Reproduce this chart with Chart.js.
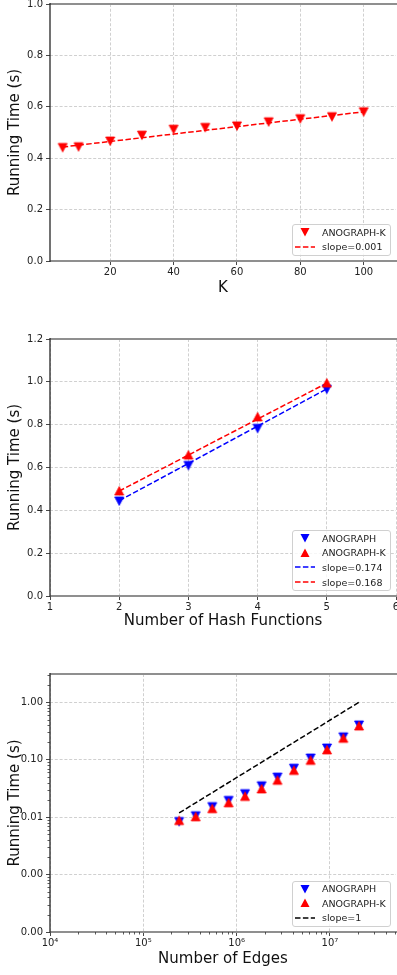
<!DOCTYPE html>
<html>
<head>
<meta charset="utf-8">
<script src="https://cdn.jsdelivr.net/npm/chart.js@4.4.1/dist/chart.umd.min.js"></script>
<style>
  body { margin: 0; background: #fff; font-family: "DejaVu Sans", sans-serif; }
  #page { position: relative; width: 397px; height: 975px; overflow: hidden; }
  #page canvas { position: absolute; left: 0; }
  .legend {
    position: absolute; left: 292px; width: 99px; box-sizing: border-box;
    border: 1px solid #d0d0d0; border-radius: 3px; background: rgba(255,255,255,0.8);
    padding: 0 0 1px 0; font-size: 9.5px; color: #222;
  }
  .legend .row { height: 14.6px; display: flex; align-items: center; white-space: nowrap; }
  .legend svg { margin-left: 2px; margin-right: 7px; flex: none; }
</style>
</head>
<body>
<div id="page">
  <canvas id="kChart" width="397" height="300" style="top:0px"></canvas>
  <canvas id="hashChart" width="397" height="313" style="top:320px"></canvas>
  <canvas id="edgeChart" width="397" height="331" style="top:640px"></canvas>

  <div class="legend" style="top:224px">
    <div class="row"><svg width="20" height="12"><polygon points="5.5,2 14.5,2 10,10.5" fill="#ff0000"/></svg>ANOGRAPH-K</div>
    <div class="row"><svg width="20" height="12"><line x1="0" y1="6" x2="20" y2="6" stroke="#ff0000" stroke-width="1.5" stroke-dasharray="5.5 2.4"/></svg>slope=0.001</div>
  </div>

  <div class="legend" style="top:530px">
    <div class="row"><svg width="20" height="12"><polygon points="5.5,2 14.5,2 10,10.5" fill="#0000ff"/></svg>ANOGRAPH</div>
    <div class="row"><svg width="20" height="12"><polygon points="5.5,10 14.5,10 10,1.5" fill="#ff0000"/></svg>ANOGRAPH-K</div>
    <div class="row"><svg width="20" height="12"><line x1="0" y1="6" x2="20" y2="6" stroke="#0000ff" stroke-width="1.5" stroke-dasharray="5.5 2.4"/></svg>slope=0.174</div>
    <div class="row"><svg width="20" height="12"><line x1="0" y1="6" x2="20" y2="6" stroke="#ff0000" stroke-width="1.5" stroke-dasharray="5.5 2.4"/></svg>slope=0.168</div>
  </div>

  <div class="legend" style="top:880.5px">
    <div class="row"><svg width="20" height="12"><polygon points="5.5,2 14.5,2 10,10.5" fill="#0000ff"/></svg>ANOGRAPH</div>
    <div class="row"><svg width="20" height="12"><polygon points="5.5,10 14.5,10 10,1.5" fill="#ff0000"/></svg>ANOGRAPH-K</div>
    <div class="row"><svg width="20" height="12"><line x1="0" y1="6" x2="20" y2="6" stroke="#000000" stroke-width="1.5" stroke-dasharray="5.5 2.4"/></svg>slope=1</div>
  </div>
</div>

<script>
// Chart 1 - running time vs K
const kValues = [5, 10, 20, 30, 40, 50, 60, 70, 80, 90, 100];
const kTimes = [0.442, 0.445, 0.467, 0.490, 0.513, 0.520, 0.526, 0.542, 0.554, 0.562, 0.581];
const kFitX = [5, 100];
const kFitY = [0.4435, 0.5805];
const kXTicks = [20, 40, 60, 80, 100];
const kYTicks = [0, 0.2, 0.4, 0.6, 0.8, 1.0];

// Chart 2 - running time vs number of hash functions
const hashCounts = [2, 3, 4, 5];
const hashTimes = [0.444, 0.610, 0.783, 0.966];
const hashTimesK = [0.490, 0.658, 0.836, 0.994];
const hashFitX = [2, 5];
const hashFitY = [0.445, 0.967];
const hashFitYK = [0.490, 0.994];
const hashXTicks = [1, 2, 3, 4, 5, 6];
const hashYTicks = [0, 0.2, 0.4, 0.6, 0.8, 1.0, 1.2];

// Chart 3 - running time vs number of edges (log-log)
const edgeCounts = [2.42e5, 3.64e5, 5.48e5, 8.2e5, 1.23e6, 1.85e6, 2.74e6, 4.11e6, 6.2e6, 9.3e6, 1.39e7, 2.05e7];
const edgeTimes = [0.0084, 0.0106, 0.0153, 0.0196, 0.0257, 0.0352, 0.0499, 0.0711, 0.107, 0.160, 0.250, 0.403];
const edgeTimesK = [0.0087, 0.0101, 0.0140, 0.0177, 0.0229, 0.0309, 0.0437, 0.0648, 0.097, 0.148, 0.235, 0.385];
const slopeX = [2.42e5, 2.05e7];
const slopeY = [0.0118, 1.0];
const edgeXMajor = [1e4, 1e5, 1e6, 1e7];
const edgeXLabels = ["10\u2074", "10\u2075", "10\u2076", "10\u2077"];
const edgeYMajor = [1e-4, 1e-3, 1e-2, 1e-1, 1];
const edgeYLabels = ["0.00", "0.00", "0.01", "0.10", "1.00"];

Chart.defaults.font.family = "'DejaVu Sans', sans-serif";
Chart.defaults.color = "#222";

const GRID = "#c4c4c4";
const TICK = "#333";
const RED = "#ff0000";
const BLUE = "#0000ff";

const toPoints = (xs, ys) => xs.map((x, i) => ({ x: x, y: ys[i] }));
const isPow10 = (v) => Math.abs(Math.log10(v) - Math.round(Math.log10(v))) < 1e-6;

/** Triangle marker like matplotlib 'v' / '^' */
function triangleMarker(color, down) {
  const c = document.createElement("canvas");
  c.width = 12;
  c.height = 12;
  const g = c.getContext("2d");
  g.fillStyle = color;
  g.strokeStyle = color;
  g.lineWidth = 0.8;
  g.beginPath();
  if (down) {
    g.moveTo(1.5, 2); g.lineTo(10.5, 2); g.lineTo(6, 10.5);
  } else {
    g.moveTo(1.5, 10); g.lineTo(10.5, 10); g.lineTo(6, 1.5);
  }
  g.closePath();
  g.fill();
  g.stroke();
  return c;
}

const redDown = triangleMarker(RED, true);
const redUp = triangleMarker(RED, false);
const blueDown = triangleMarker(BLUE, true);

/** Axes frame drawn on top like matplotlib spines */
const framePlugin = {
  id: "frame",
  afterDraw(chart) {
    const { ctx, chartArea: a } = chart;
    ctx.save();
    ctx.lineWidth = 2;
    ctx.strokeStyle = "#8f8f8f";
    ctx.beginPath();
    ctx.moveTo(a.left, a.top); ctx.lineTo(a.right + 1, a.top);
    ctx.moveTo(a.left, a.bottom); ctx.lineTo(a.right + 1, a.bottom);
    ctx.stroke();
    ctx.lineWidth = 1.3;
    ctx.strokeStyle = "#262626";
    ctx.beginPath();
    ctx.moveTo(a.left, a.top - 1); ctx.lineTo(a.left, a.bottom + 1);
    ctx.stroke();
    ctx.restore();
  },
};

/** Short minor tick marks for the log axes */
const minorTickPlugin = {
  id: "minorTicks",
  afterDraw(chart) {
    const { ctx, chartArea: a, scales } = chart;
    ctx.save();
    ctx.strokeStyle = TICK;
    ctx.lineWidth = 0.8;
    ctx.beginPath();
    scales.x.ticks.forEach((t) => {
      if (isPow10(t.value)) return;
      const px = Math.round(scales.x.getPixelForValue(t.value)) + 0.5;
      ctx.moveTo(px, a.bottom); ctx.lineTo(px, a.bottom + 2.5);
    });
    scales.y.ticks.forEach((t) => {
      if (isPow10(t.value)) return;
      const py = Math.round(scales.y.getPixelForValue(t.value)) + 0.5;
      ctx.moveTo(a.left, py); ctx.lineTo(a.left - 2.5, py);
    });
    ctx.stroke();
    ctx.restore();
  },
};

function logTicks(majors, min, max) {
  const ticks = [];
  majors.forEach((m) => {
    for (let s = 1; s <= 9; s++) {
      const v = m * s;
      if (v >= min * 0.999 && v <= max) ticks.push({ value: v });
    }
  });
  return ticks;
}

function axisX(opts) {
  return {
    type: opts.type || "linear",
    min: opts.min,
    max: opts.max,
    afterBuildTicks: (scale) => { scale.ticks = opts.ticks(); },
    afterFit: (scale) => {
      scale.height = opts.height;
      scale.paddingLeft = 0;
      scale.paddingRight = 0;
    },
    grid: {
      color: opts.gridColor || GRID,
      lineWidth: 0.8,
      tickLength: 4,
      tickColor: opts.tickColor || TICK,
      tickWidth: 0.9,
    },
    border: { display: false, dash: [3, 1.8] },
    ticks: {
      autoSkip: false,
      maxRotation: 0,
      padding: 1,
      font: { size: 10 },
      color: "#222",
      callback: opts.label,
    },
    title: {
      display: true,
      text: opts.title,
      font: { size: 15 },
      color: "#111",
      padding: { top: 0, bottom: 3 },
    },
  };
}

function axisY(opts) {
  return {
    type: opts.type || "linear",
    min: opts.min,
    max: opts.max,
    afterBuildTicks: (scale) => { scale.ticks = opts.ticks(); },
    afterFit: (scale) => {
      scale.width = 50;
      scale.paddingTop = 0;
      scale.paddingBottom = 0;
    },
    grid: {
      color: opts.gridColor || GRID,
      lineWidth: 0.8,
      tickLength: 4,
      tickColor: opts.tickColor || TICK,
      tickWidth: 0.9,
    },
    border: { display: false, dash: [3, 1.8] },
    ticks: {
      autoSkip: false,
      padding: 3,
      font: { size: 10 },
      color: "#222",
      callback: opts.label,
    },
    title: {
      display: true,
      text: "Running Time (s)",
      font: { size: 15 },
      color: "#111",
      padding: { top: 6, bottom: 0 },
    },
  };
}

function markerSet(label, data, style, order) {
  return {
    label: label,
    data: data,
    pointStyle: style,
    pointRadius: 5,
    showLine: false,
    order: order,
  };
}

function dashedLine(label, data, color, order) {
  return {
    label: label,
    data: data,
    showLine: true,
    borderColor: color,
    borderWidth: 1.5,
    borderDash: [5.5, 2.4],
    pointRadius: 0,
    fill: false,
    order: order,
  };
}

const baseOptions = {
  responsive: false,
  animation: false,
  plugins: { legend: { display: false }, tooltip: { enabled: false } },
};

/** Chart 1 */
new Chart(document.getElementById("kChart"), {
  type: "scatter",
  data: {
    datasets: [
      markerSet("ANOGRAPH-K", toPoints(kValues, kTimes), redDown, 0),
      dashedLine("slope=0.001", toPoints(kFitX, kFitY), RED, 1),
    ],
  },
  options: {
    ...baseOptions,
    layout: { autoPadding: false, padding: { top: 4, right: 1, left: 0, bottom: 0 } },
    scales: {
      x: axisX({
        min: 1, max: 110.2, height: 39, title: "K",
        ticks: () => kXTicks.map((v) => ({ value: v })),
        label: (v) => String(v),
      }),
      y: axisY({
        min: 0, max: 1.0,
        ticks: () => kYTicks.map((v) => ({ value: v })),
        label: (v) => v.toFixed(1),
      }),
    },
  },
  plugins: [framePlugin],
});

/** Chart 2 */
new Chart(document.getElementById("hashChart"), {
  type: "scatter",
  data: {
    datasets: [
      markerSet("ANOGRAPH-K", toPoints(hashCounts, hashTimesK), redUp, 0),
      markerSet("ANOGRAPH", toPoints(hashCounts, hashTimes), blueDown, 1),
      dashedLine("slope=0.168", toPoints(hashFitX, hashFitYK), RED, 2),
      dashedLine("slope=0.174", toPoints(hashFitX, hashFitY), BLUE, 3),
    ],
  },
  options: {
    ...baseOptions,
    layout: { autoPadding: false, padding: { top: 19, right: 1, left: 0, bottom: 0 } },
    scales: {
      x: axisX({
        min: 1, max: 6, height: 37, title: "Number of Hash Functions",
        ticks: () => hashXTicks.map((v) => ({ value: v })),
        label: (v) => String(v),
      }),
      y: axisY({
        min: 0, max: 1.2,
        ticks: () => hashYTicks.map((v) => ({ value: v })),
        label: (v) => v.toFixed(1),
      }),
    },
  },
  plugins: [framePlugin],
});

/** Chart 3 */
const edgeXMin = 1e4, edgeXMax = 5.1e7;
const edgeYMin = 1e-4, edgeYMax = 3.1;
const majorOnly = (color) => (c) => (c.tick && isPow10(c.tick.value) ? color : "rgba(0,0,0,0)");

new Chart(document.getElementById("edgeChart"), {
  type: "scatter",
  data: {
    datasets: [
      markerSet("ANOGRAPH-K", toPoints(edgeCounts, edgeTimesK), redUp, 0),
      markerSet("ANOGRAPH", toPoints(edgeCounts, edgeTimes), blueDown, 1),
      dashedLine("slope=1", toPoints(slopeX, slopeY), "#000000", 2),
    ],
  },
  options: {
    ...baseOptions,
    layout: { autoPadding: false, padding: { top: 34, right: 1, left: 0, bottom: 0 } },
    scales: {
      x: axisX({
        type: "logarithmic",
        min: edgeXMin, max: edgeXMax, height: 39, title: "Number of Edges",
        ticks: () => logTicks(edgeXMajor, edgeXMin, edgeXMax),
        label: (v) => {
          const i = edgeXMajor.findIndex((m) => Math.abs(m - v) < m * 1e-6);
          return i >= 0 ? edgeXLabels[i] : "";
        },
        gridColor: majorOnly(GRID),
        tickColor: majorOnly(TICK),
      }),
      y: axisY({
        type: "logarithmic",
        min: edgeYMin, max: edgeYMax,
        ticks: () => logTicks(edgeYMajor, edgeYMin, edgeYMax),
        label: (v) => {
          const i = edgeYMajor.findIndex((m) => Math.abs(m - v) < m * 1e-6);
          return i >= 0 ? edgeYLabels[i] : "";
        },
        gridColor: majorOnly(GRID),
        tickColor: majorOnly(TICK),
      }),
    },
  },
  plugins: [framePlugin, minorTickPlugin],
});
</script>
</body>
</html>
